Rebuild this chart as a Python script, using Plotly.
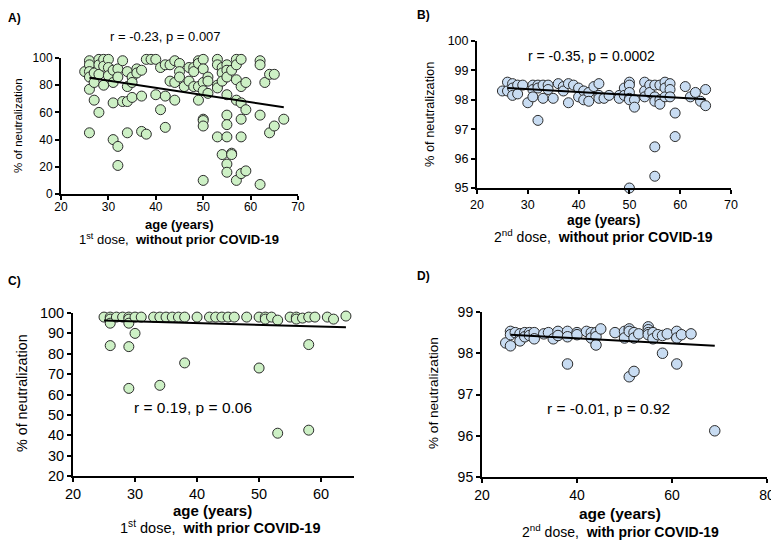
import plotly.graph_objects as go
from plotly.subplots import make_subplots

# Panel A: 1st dose, without prior COVID-19
age_a = [25, 26, 26, 26, 26, 26, 26, 27, 27, 27, 28, 28, 28, 28, 29, 29, 29, 30, 30, 30,
         31, 31, 31, 31, 32, 32, 32, 32, 33, 33, 34, 34, 34, 34, 35, 35, 35, 36, 36,
         37, 37, 37, 38, 38, 39, 40, 40, 41, 41, 42, 42, 42, 43, 43, 44, 44, 44,
         45, 45, 45, 46, 47, 47, 48, 48, 48, 49, 49, 49, 49,
         50, 50, 50, 50, 50, 50, 50, 50, 51, 51, 51, 53, 53, 53, 53, 53,
         54, 54, 54, 54, 55, 55, 55, 55, 55, 55, 55, 55, 55, 56, 56, 56,
         57, 57, 57, 57, 57, 58, 58, 58, 58, 58, 58, 59, 59, 59,
         62, 62, 62, 62, 63, 64, 64, 65, 65, 67]
neut_a = [90, 98, 95, 90, 86, 77, 45, 89, 82, 69, 99, 95, 88, 60, 99, 94, 80, 99, 93, 87,
          91, 82, 67, 40, 92, 86, 35, 21, 98, 68, 90, 79, 68, 45, 86, 82, 71, 92, 89,
          91, 72, 46, 99, 44, 99, 99, 73, 93, 62, 95, 72, 49, 95, 83, 98, 82, 69,
          96, 90, 86, 79, 93, 83, 93, 90, 79, 98, 96, 79, 69,
          99, 92, 82, 76, 55, 54, 50, 10, 86, 83, 74, 99, 95, 80, 78, 42,
          93, 89, 83, 29, 95, 91, 86, 73, 58, 51, 42, 22, 16, 91, 30, 29,
          99, 95, 84, 69, 10, 99, 79, 67, 55, 42, 15, 82, 62, 17,
          98, 95, 58, 7, 82, 88, 45, 88, 50, 55]
fit_a_x = [26, 67]
fit_a_y = [85.5, 63.8]

# Panel B: 2nd dose, without prior COVID-19
age_b = [25, 26, 26, 27, 27, 27, 28, 28, 29, 30, 31, 31, 31, 32, 32, 32, 33, 33, 34, 34,
         35, 36, 37, 37, 38, 38, 39, 40, 40, 41, 41, 42, 42, 43, 44, 44, 44, 45, 46,
         48, 48, 49, 49, 50, 50, 50, 50, 50, 50, 51, 51, 53, 53, 53, 54, 54,
         55, 55, 55, 55, 55, 56, 56, 56, 57, 57, 57, 58, 58, 58, 59, 59,
         61, 62, 63, 64, 65, 65]
neut_b = [98.3, 98.6, 98.3, 98.55, 98.4, 98.15, 98.5, 98.2, 98.5, 97.9, 98.5, 98.35, 98.1,
          98.5, 98.4, 97.3, 98.5, 98.05, 98.5, 98.35, 98.05, 98.55, 98.45, 98.3, 98.55, 97.9,
          98.5, 98.4, 98.1, 98.3, 98.0, 98.25, 97.95, 98.45, 98.55, 98.15, 98.05, 98.05, 98.15,
          98.15, 98.05, 98.4, 98.15, 98.6, 98.5, 98.25, 98.05, 98.0, 95.0, 98.0, 97.75,
          98.6, 98.3, 98.1, 98.5, 98.25, 98.5, 98.1, 97.95, 96.4, 95.4, 98.5, 98.0, 97.85,
          98.6, 98.4, 98.1, 98.55, 98.35, 98.1, 97.55, 96.75,
          98.45, 98.1, 98.25, 97.95, 98.35, 97.8]
fit_b_x = [26, 65]
fit_b_y = [98.4, 98.02]

# Panel C: 1st dose, with prior COVID-19
age_c = [25, 26, 26, 26, 26, 27, 28, 29, 29, 29, 29, 29, 30, 30, 31, 33, 34, 34, 35, 36,
         37, 38, 38, 40, 42, 43, 44, 45, 46, 48, 50, 50, 51, 51, 52, 53, 53,
         55, 56, 56, 57, 58, 58, 58, 59, 61, 62, 64]
neut_c = [98, 98, 97, 95, 84, 98, 98, 98, 97, 95, 83.5, 63, 98, 90, 98, 98, 98, 64.5, 98, 98,
          98, 98, 75.5, 98, 98, 98, 98, 98, 98, 98, 98, 73, 98, 97, 98, 96.5, 41,
          98, 98, 97, 97.5, 98, 84.5, 42.5, 98, 98, 97, 98.5]
fit_c_x = [25, 64]
fit_c_y = [96.3, 93.0]

# Panel D: 2nd dose, with prior COVID-19
age_d = [25, 26, 26, 26, 27, 28, 28, 29, 29, 30, 30, 31, 31, 33, 34, 35, 36, 36,
         38, 38, 38, 40, 40, 42, 43, 43, 44, 44, 44, 45, 48, 50, 50, 51, 51, 51,
         52, 52, 52, 53, 55, 55, 55, 55, 56, 56, 57, 58, 58, 59, 61, 61, 61, 62, 64, 69]
neut_d = [98.25, 98.53, 98.45, 98.18, 98.5, 98.47, 98.3, 98.5, 98.4, 98.5, 98.43, 98.5, 98.35,
          98.47, 98.5, 98.35, 98.53, 98.43, 98.53, 98.4, 97.74, 98.5, 98.45, 98.53, 98.5, 98.37,
          98.5, 98.4, 98.2, 98.59, 98.5, 98.53, 98.37, 98.59, 98.53, 97.43,
          98.5, 98.37, 97.56, 98.47, 98.64, 98.57, 98.5, 98.45, 98.5, 98.35, 98.45,
          98.43, 98.0, 98.47, 98.53, 98.37, 97.74, 98.45, 98.47, 96.12]
fit_d_x = [26, 69]
fit_d_y = [98.45, 98.18]

# the page body has an 8px margin, so the figure is shrunk by that much
W, H = 779, 542
OFF = 8
FW, FH = W - OFF, H - OFF
GREEN = "#cdf0c5"
BLUE = "#c8dcf2"
FONT = "Arial, Liberation Sans, sans-serif"


def fx(px):
    return (px - OFF) / FW


def fy(py):
    return 1 - (py - OFF) / FH


fig = make_subplots(rows=2, cols=2)

panels = [
    # ages, values, fit x, fit y, colour, row, col, x pixels, y pixels,
    # x range, y range, y step, x step, tick font, label standoff, marker
    (age_a, neut_a, fit_a_x, fit_a_y, GREEN, 1, 1, (61, 298), (58, 194),
     [20, 70], [0, 100], 20, 10, 12, -3, 10),
    (age_b, neut_b, fit_b_x, fit_b_y, BLUE, 1, 2, (477, 731), (41, 188),
     [20, 70], [95, 100], 1, 10, 12.5, 0, 10),
    (age_c, neut_c, fit_c_x, fit_c_y, GREEN, 2, 1, (73, 354), (313, 476),
     [20, 65.3], [20, 100], 10, 10, 14.5, 0, 10),
    (age_d, neut_d, fit_d_x, fit_d_y, BLUE, 2, 2, (482, 767), (312, 477),
     [20, 80], [95, 99], 1, 20, 14, 0, 10.5),
]

for i, (ax, ay, lx, ly, col, r, c, xp, yp, xr, yr, ydt, xdt, tfs, tso, ms) in enumerate(panels):
    fig.add_trace(go.Scatter(
        x=ax, y=ay, mode="markers", cliponaxis=False,
        marker=dict(size=ms, color=col, line=dict(color="#2b2b2b", width=1)),
        showlegend=False), row=r, col=c)
    fig.add_trace(go.Scatter(
        x=lx, y=ly, mode="lines", cliponaxis=False,
        line=dict(color="black", width=2), showlegend=False), row=r, col=c)
    sfx = "" if i == 0 else str(i + 1)
    common = dict(showline=True, linecolor="black", linewidth=2, ticks="outside",
                  ticklen=4, tickwidth=2, tickcolor="black", showgrid=False,
                  zeroline=False, automargin=False,
                  tickfont=dict(family=FONT, size=tfs, color="black"))
    fig.layout["xaxis" + sfx].update(
        domain=[fx(xp[0]), fx(xp[1])], range=xr, dtick=xdt, tick0=20,
        ticklabelstandoff=tso, **common)
    fig.layout["yaxis" + sfx].update(
        domain=[fy(yp[1]), fy(yp[0])], range=yr, dtick=ydt, **common)

texts = [
    # text, x px, y px, size, angle
    ("<b>A)</b>", 14, 18, 12, 0),
    ("<b>B)</b>", 423, 15, 12, 0),
    ("<b>C)</b>", 14, 281, 12, 0),
    ("<b>D)</b>", 423, 276, 12, 0),
    ("r = -0.23, p = 0.007", 165, 36, 13, 0),
    ("r = -0.35, p = 0.0002", 591, 56, 14, 0),
    ("r = 0.19, p = 0.06", 193, 407, 15.5, 0),
    ("r = -0.01, p = 0.92", 608, 408, 15.5, 0),
    ("% of neutralization", 18, 126, 11.5, -90),
    ("% of neutralization", 430, 115, 12.8, -90),
    ("% of neutralization", 22, 393, 14.3, -90),
    ("% of neutralization", 433, 393, 13.6, -90),
    ("<b>age (years)</b>", 179, 224, 13, 0),
    ("<b>age (years)</b>", 603, 220, 13.9, 0),
    ("<b>age (years)</b>", 212, 510, 15, 0),
    ("<b>age (years)</b>", 620, 513, 15.5, 0),
    ("1<sup>st</sup> dose,  <b>without prior COVID-19</b>", 179, 239, 13, 0),
    ("2<sup>nd</sup> dose,  <b>without prior COVID-19</b>", 603, 236, 14, 0),
    ("1<sup>st</sup> dose,  <b>with prior COVID-19</b>", 220, 527, 14.5, 0),
    ("2<sup>nd</sup> dose,  <b>with prior COVID-19</b>", 620, 531, 14, 0),
]
for t, x, y, s, a in texts:
    fig.add_annotation(text=t, x=fx(x), y=fy(y), xref="paper", yref="paper",
                       showarrow=False, textangle=a, xanchor="center", yanchor="middle",
                       font=dict(family=FONT, size=s, color="black"))

fig.update_layout(
    template="none",
    width=FW, height=FH, margin=dict(l=0, r=0, t=0, b=0, autoexpand=False),
    plot_bgcolor="white", paper_bgcolor="white",
)

fig.write_html("out.html")
